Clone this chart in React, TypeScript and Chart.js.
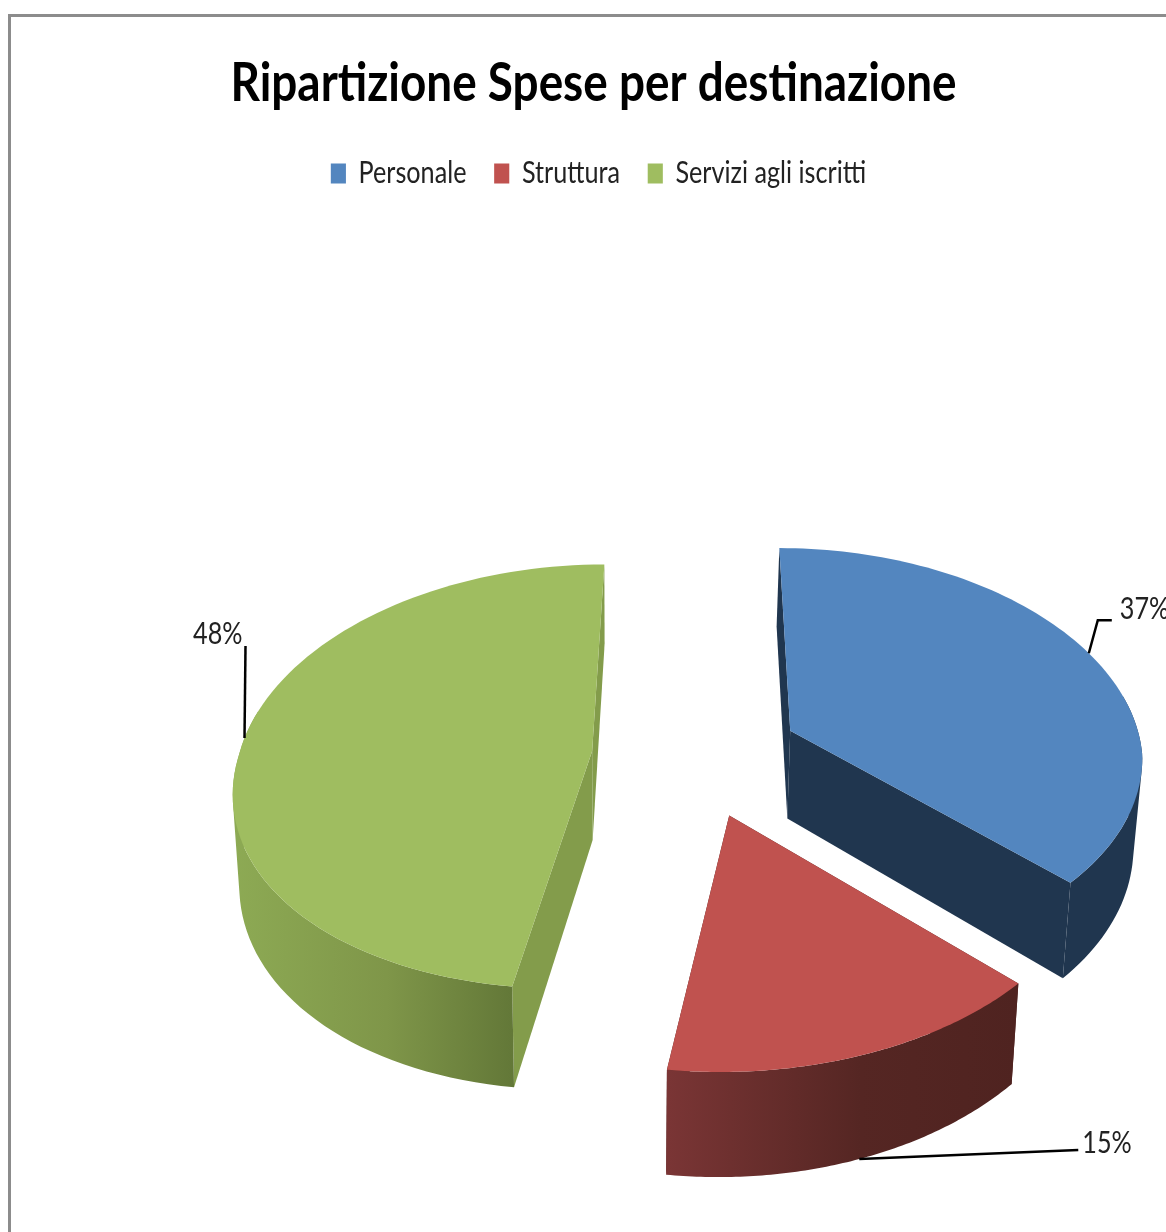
import React, { useEffect, useRef } from "react";
import { Chart, registerables } from "chart.js";

Chart.register(...registerables);

const categories = ["Personale", "Struttura", "Servizi agli iscritti"];
const shares = [37, 15, 48];
const titleText = "Ripartizione Spese per destinazione";

const topColors = ["#5386BF", "#C0524F", "#9FBD60"];
const cutColors = ["#20364F", "#4F2320", "#839C4B"];
const wallStops = [
  ["#20364F", "#20364F", "#20364F"],
  ["#7A3535", "#552623", "#4F2320"],
  ["#8DAA54", "#7F9649", "#637838"],
];

const FONT = 'Lato, "Open Sans", sans-serif';
const TEXT_SX = 0.84;

// Perspective view of the pie plane (normalised to the pie radius)
const VIEW = { cx: 696, cy: 755, sx: 353, sy: 210, kx: 0.133, ky: 0.12, b: -12, depth: 89, shrink: 0.983, sc: 620 };
function project(u: number, v: number, low = false) {
  const dx = 1 - VIEW.kx * v;
  const dy = 1 - VIEW.ky * v;
  let x = VIEW.cx + (VIEW.sx * u + VIEW.b * Math.max(v, 0)) / dx;
  let y = VIEW.cy + (VIEW.sy * v) / dy;
  if (low) {
    x = VIEW.sc + (x - VIEW.sc) * VIEW.shrink;
    y += VIEW.depth / dy;
  }
  return { x, y };
}

// Leader layout per slice, relative to the anchor on the rim at mid-angle
const LEADERS = [
  { low: false, pts: [[9, -33], [23, -33]], tx: 31, ty: -44, align: "left" },
  { low: true, pts: [[219, -9]], tx: 223, ty: -16, align: "left" },
  { low: false, pts: [[1, -92]], tx: -2, ty: -104, align: "right" },
];

// Narrows a layout box's drawing about a vertical axis
function narrowBox(chart: any, box: any, sx: number, dx: number) {
  const draw = box.draw.bind(box);
  box.draw = (area: any) => {
    const c = (box.left + box.right) / 2;
    const { ctx } = chart;
    ctx.save();
    ctx.translate(c + dx, 0);
    ctx.scale(sx, 1);
    ctx.translate(-c, 0);
    draw(area);
    ctx.restore();
  };
}

const pie3d = {
  id: "pie3d",
  afterLayout(chart: any) {
    if (chart.$narrowed) return;
    chart.$narrowed = true;
    const { ctx } = chart;
    ctx.save();
    ctx.font = `bold 53px ${FONT}`;
    const w = ctx.measureText(titleText).width;
    ctx.restore();
    narrowBox(chart, chart.titleBlock, 726 / w, 0);
    narrowBox(chart, chart.legend, TEXT_SX, 5);
  },
  beforeDraw(chart: any) {
    const { ctx } = chart;
    ctx.save();
    ctx.strokeStyle = "#8C8C8C";
    ctx.lineWidth = 3;
    ctx.beginPath();
    ctx.moveTo(9.5, 1232);
    ctx.lineTo(9.5, 15.5);
    ctx.lineTo(1166, 15.5);
    ctx.stroke();
    ctx.restore();
  },
  beforeDatasetDraw(chart: any) {
    const { ctx } = chart;
    const arcs = chart.getDatasetMeta(0).data;
    const total = shares.reduce((a, b) => a + b, 0);
    const order = [0, 2, 1];
    const geom = arcs.map((arc: any) => {
      const R = arc.outerRadius;
      const mid = (arc.startAngle + arc.endAngle) / 2;
      const off = arc.options.offset / R;
      return { s: arc.startAngle, e: arc.endAngle, mid, cu: off * Math.cos(mid), cv: off * Math.sin(mid) };
    });
    const rim = (g: any, a: number, low = false) => project(g.cu + Math.cos(a), g.cv + Math.sin(a), low);
    const trace = (pts: { x: number; y: number }[]) => {
      let area = 0;
      pts.forEach((p, i) => {
        const q = pts[(i + 1) % pts.length];
        area += p.x * q.y - q.x * p.y;
      });
      const list = area < 0 ? pts.slice().reverse() : pts;
      list.forEach((p, i) => (i ? ctx.lineTo(p.x, p.y) : ctx.moveTo(p.x, p.y)));
      ctx.closePath();
    };
    const poly = (pts: { x: number; y: number }[], fill: any) => {
      ctx.beginPath();
      trace(pts);
      ctx.fillStyle = fill;
      ctx.fill();
    };
    ctx.save();
    order.forEach((i) => {
      const g = geom[i];
      const n = 90;
      const angles: number[] = [];
      const topArc: { x: number; y: number }[] = [];
      const lowArc: { x: number; y: number }[] = [];
      for (let j = 0; j <= n; j++) {
        const a = g.s + ((g.e - g.s) * j) / n;
        angles.push(a);
        topArc.push(rim(g, a));
        lowArc.push(rim(g, a, true));
      }
      const apex = project(g.cu, g.cv);
      const apexLow = project(g.cu, g.cv, true);
      // cut faces
      poly([apex, topArc[0], lowArc[0], apexLow], cutColors[i]);
      poly([apex, topArc[n], lowArc[n], apexLow], cutColors[i]);
      // outer wall: front-facing strips only, filled as one path
      const isFront = (j: number) => Math.sin(angles[j]) > -0.2;
      const xs = topArc.filter((_, j) => isFront(j)).map((p) => p.x);
      const grad = ctx.createLinearGradient(Math.min(...xs), 0, Math.max(...xs), 0);
      grad.addColorStop(0, wallStops[i][0]);
      grad.addColorStop(0.55, wallStops[i][1]);
      grad.addColorStop(1, wallStops[i][2]);
      ctx.beginPath();
      for (let j = 0; j < n; j++) {
        if (!isFront(j) || !isFront(j + 1)) continue;
        trace([topArc[j], topArc[j + 1], lowArc[j + 1], lowArc[j]]);
      }
      ctx.fillStyle = grad;
      ctx.fill();
      // top face
      poly([apex, ...topArc], topColors[i]);
    });
    // leader lines and labels
    order.forEach((i) => {
      const g = geom[i];
      const l = LEADERS[i];
      const a = rim(g, g.mid, l.low);
      ctx.beginPath();
      ctx.moveTo(a.x, a.y);
      l.pts.forEach((p) => ctx.lineTo(a.x + p[0], a.y + p[1]));
      ctx.strokeStyle = "#000";
      ctx.lineWidth = 2.5;
      ctx.stroke();
      ctx.fillStyle = "#222";
      ctx.font = `30px ${FONT}`;
      ctx.textBaseline = "middle";
      ctx.textAlign = l.align;
      ctx.save();
      ctx.translate(a.x + l.tx, a.y + l.ty);
      ctx.scale(TEXT_SX, 1);
      ctx.fillText(`${Math.round((shares[i] / total) * 100)}%`, 0, 0);
      ctx.restore();
    });
    ctx.restore();
    return false;
  },
};

export default function App() {
  const ref = useRef<HTMLCanvasElement>(null);
  useEffect(() => {
    const chart = new Chart(ref.current!, {
      type: "pie",
      data: {
        labels: categories,
        datasets: [{ data: shares, backgroundColor: topColors, borderWidth: 0, offset: 133 }],
      },
      options: {
        responsive: false,
        animation: false,
        layout: { padding: { left: 21, top: 52 } },
        plugins: {
          title: {
            display: true,
            text: titleText,
            color: "#000",
            font: { family: FONT, size: 53, weight: "bold" },
            padding: { top: 0, bottom: 10 },
          },
          legend: {
            position: "top",
            labels: {
              color: "#222",
              font: { family: FONT, size: 30 },
              boxWidth: 18,
              boxHeight: 20,
              padding: 33,
            },
          },
          tooltip: { enabled: false },
        },
      } as any,
      plugins: [pie3d],
    });
    return () => chart.destroy();
  }, []);
  return (
    <canvas
      ref={ref}
      width={1166}
      height={1232}
      style={{ position: "fixed", left: 0, top: 0, display: "block" }}
    />
  );
}
